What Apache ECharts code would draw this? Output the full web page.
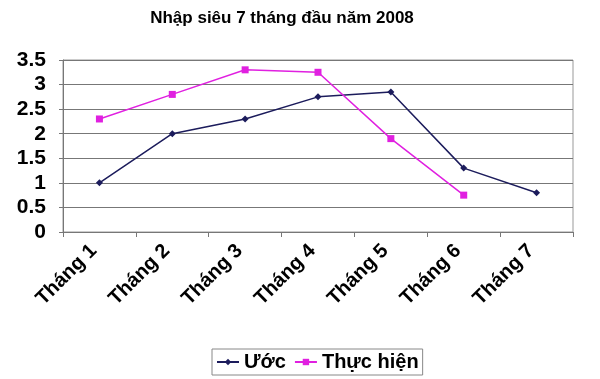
<!DOCTYPE html>
<html><head><meta charset="utf-8">
<script src="https://cdn.jsdelivr.net/npm/echarts@6/dist/echarts.min.js"></script>
<style>html,body{margin:0;padding:0;background:#fff}#c{width:600px;height:379px}</style>
</head><body><div id="c"></div>
<script>
const categories = ["Tháng 1","Tháng 2","Tháng 3","Tháng 4","Tháng 5","Tháng 6","Tháng 7"];
const uoc = [1.0, 2.0, 2.3, 2.75, 2.85, 1.3, 0.8];
const thucHien = [2.3, 2.8, 3.3, 3.25, 1.9, 0.75, null];
const yTicks = [0, 0.5, 1, 1.5, 2, 2.5, 3, 3.5];

const chart = echarts.init(document.getElementById('c'));
chart.setOption({
  backgroundColor: '#fff',
  animation: false,
  title: {
    text: 'Nhập siêu 7 tháng đầu năm 2008',
    left: 277, top: 5, textAlign: 'center',
    textStyle: {fontFamily: 'Liberation Sans, Arial', fontWeight: 'bold', fontSize: 17, color: '#000'}
  },
  grid: {left: 63, right: 27, top: 60, bottom: 147, show: true, borderColor: '#999', borderWidth: 1},
  legend: {
    bottom: 4, left: 212,
    itemGap: 8,
    padding: [3, 4, 3, 4],
    borderColor: '#888', borderWidth: 1,
    itemWidth: 22, itemHeight: 8,
    textStyle: {fontFamily: 'Liberation Sans, Arial', fontWeight: 'bold', fontSize: 20, color: '#000'},
    data: [{name: 'Ước'}, {name: 'Thực hiện'}]
  },
  xAxis: {
    type: 'category', data: categories, boundaryGap: true,
    axisLine: {lineStyle: {color: '#777'}},
    axisTick: {show: true, length: 5, lineStyle: {color: '#777'}},
    axisLabel: {rotate: 45, fontFamily: 'Liberation Sans, Arial', fontWeight: 'bold', fontSize: 20, color: '#000', margin: 10, padding: [0, 8, 0, 0], interval: 0}
  },
  yAxis: {
    type: 'value', min: 0, max: 3.5, interval: 0.5,
    axisLine: {show: true, lineStyle: {color: '#777'}},
    axisTick: {show: true, length: 4, lineStyle: {color: '#777'}},
    splitLine: {lineStyle: {color: '#777', width: 1}},
    axisLabel: {fontFamily: 'Liberation Sans, Arial', fontWeight: 'bold', fontSize: 21, color: '#000', margin: 17,
      formatter: v => yTicks.includes(v) ? String(v) : ''}
  },
  series: [
    {name: 'Ước', type: 'line', data: uoc, color: '#1c1c5c',
     symbol: 'diamond', symbolSize: 7, lineStyle: {width: 1.5, color: '#1c1c5c'}, itemStyle: {color: '#1c1c5c'}},
    {name: 'Thực hiện', type: 'line', data: thucHien, color: '#e020e0',
     symbol: 'rect', symbolSize: 7, lineStyle: {width: 1.5, color: '#e020e0'}, itemStyle: {color: '#e020e0'}}
  ]
});
</script></body></html>
